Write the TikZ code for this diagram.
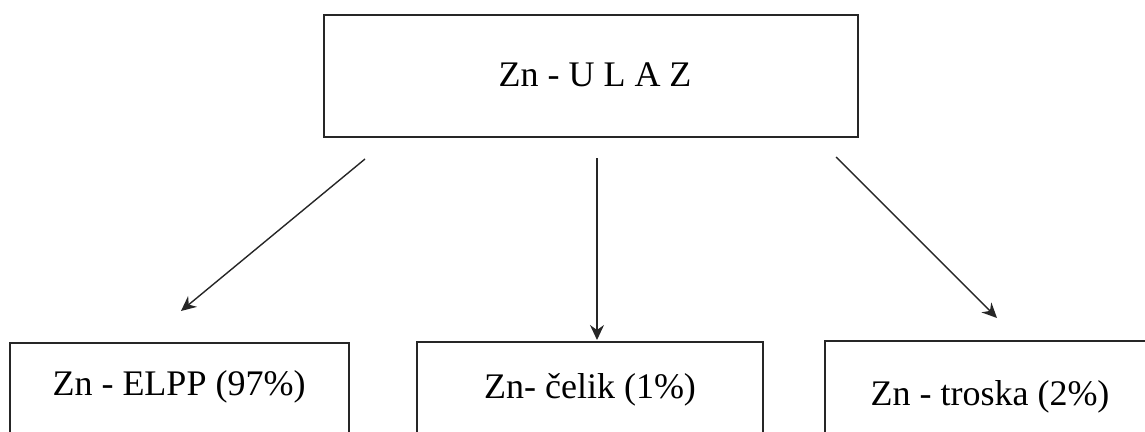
\documentclass[tikz,border=0pt]{standalone}
\usepackage{fontspec}
\setmainfont{Liberation Serif}
\usetikzlibrary{arrows.meta}
\tikzset{
  box/.style={draw=black!85, line width=1.8pt, rectangle, inner sep=0pt},
  lbl/.style={font=\fontsize{36}{43}\selectfont, inner sep=0pt, anchor=base, text=black},
  arr/.style={draw=black!85, line width=1.4pt, -{Stealth[length=15pt,width=14pt,inset=5pt]}}
}
\begin{document}
\begin{tikzpicture}[x=1pt,y=-1pt]
\useasboundingbox (0,0) rectangle (1145,431);
% boxes
\node[box, minimum width=534pt, minimum height=122pt] (top) at (591,76) {};
\node[box, minimum width=339pt, minimum height=130pt] (left) at (179.5,408) {};
\node[box, minimum width=346pt, minimum height=130pt] (mid) at (590,407) {};
\node[box, minimum width=340pt, minimum height=130pt] (right) at (995,406) {};
% labels
\node[lbl] (toptext) at (595,86) {Zn - U L A Z};
\node[lbl] (lefttext) at (179,395) {Zn - ELPP (97\%)};
\node[lbl] (midtext) at (590,398) {Zn- čelik (1\%)};
\node[lbl] (righttext) at (990,405) {Zn - troska (2\%)};
% arrow end points
\coordinate (a1s) at (365,159);
\coordinate (a1e) at (181,311);
\coordinate (a2s) at (597,158);
\coordinate (a2e) at (597,340);
\coordinate (a3s) at (836,157);
\coordinate (a3e) at (997,318);
\draw[arr] (a1s) -- (a1e);
\draw[arr] (a2s) -- (a2e);
\draw[arr] (a3s) -- (a3e);
\end{tikzpicture}
\end{document}
